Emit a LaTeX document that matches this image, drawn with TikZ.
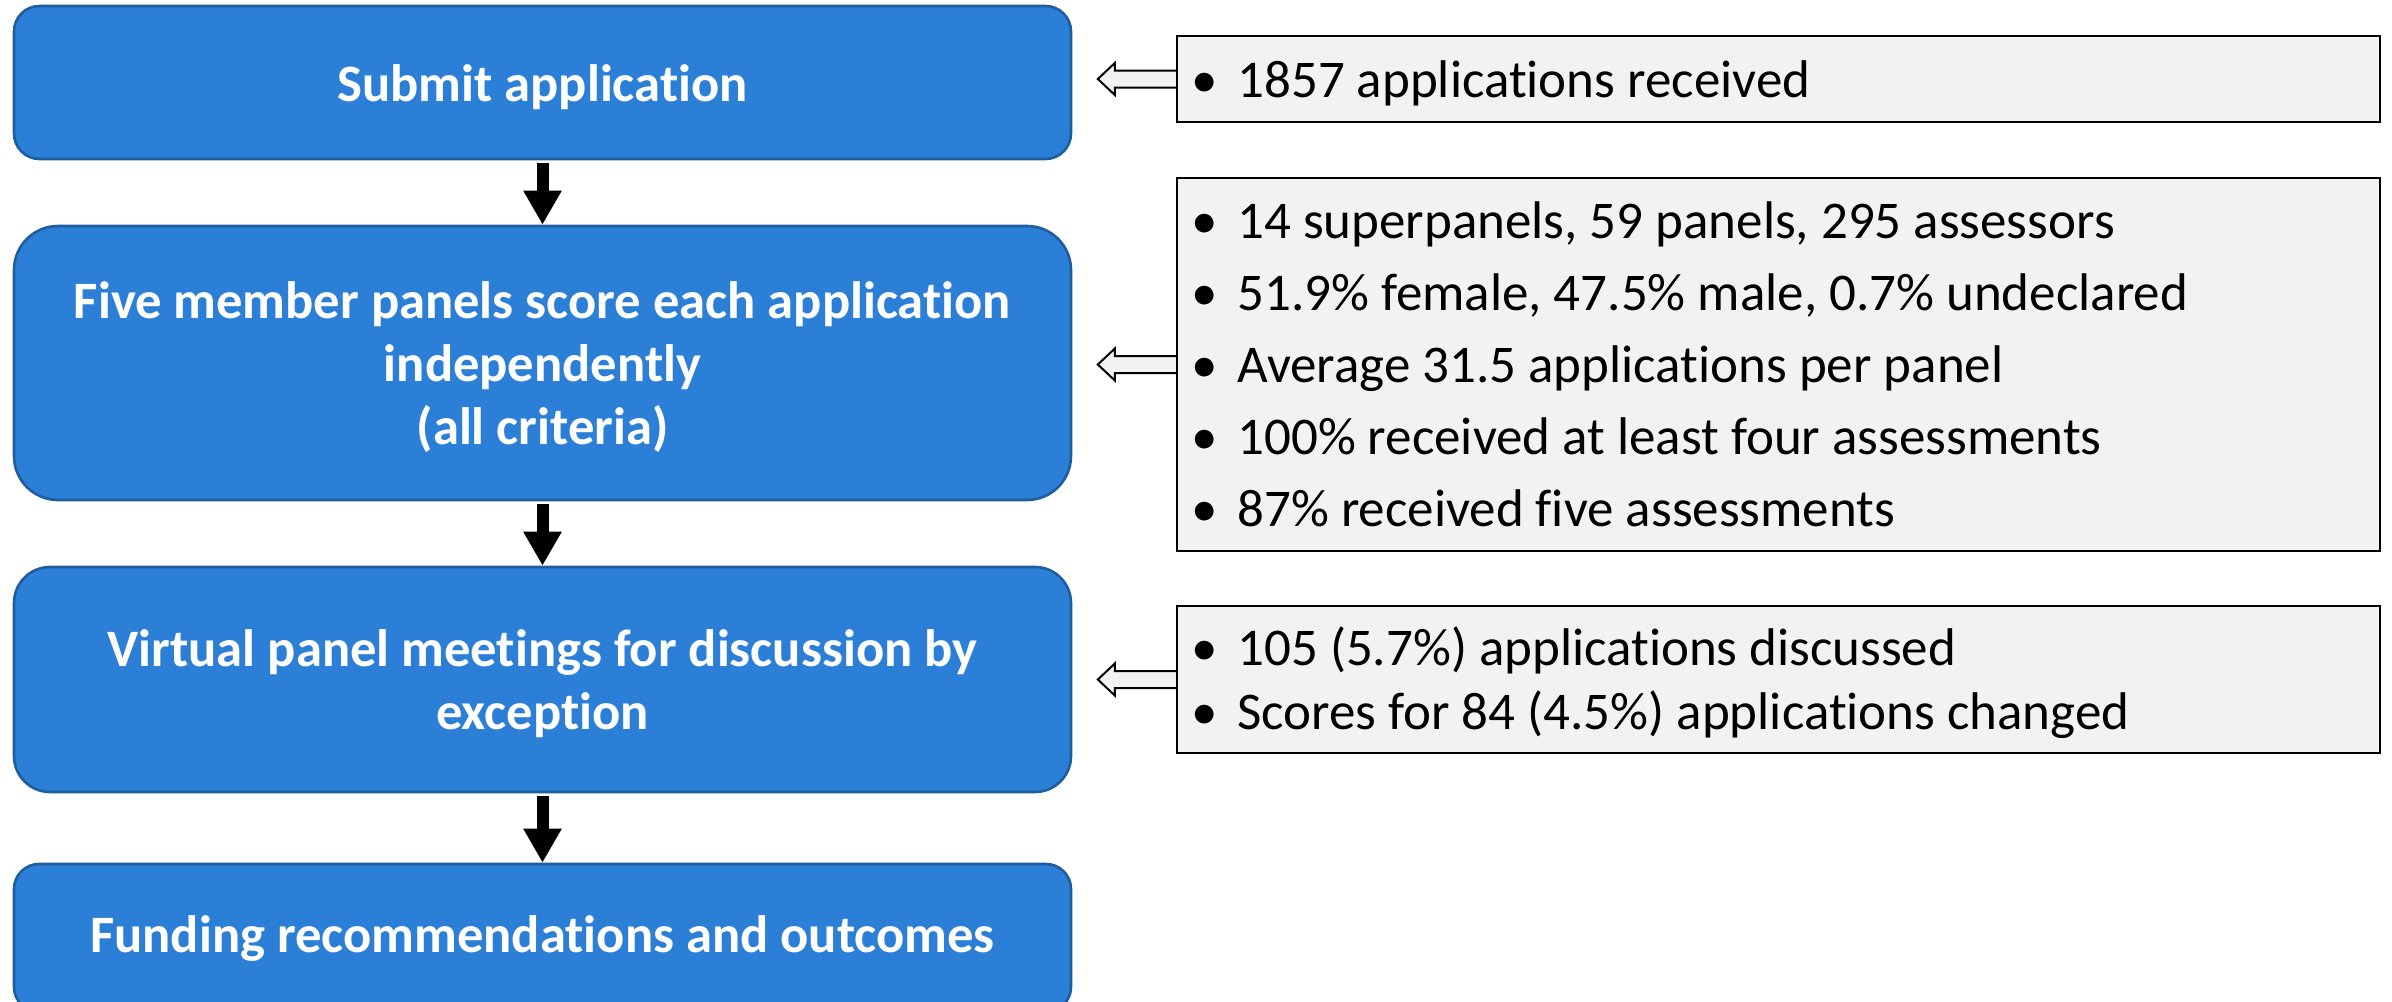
\documentclass[tikz,border=0pt]{standalone}
\usepackage{fontspec}
\setmainfont{Carlito}[Ligatures={NoCommon}]
\usetikzlibrary{arrows.meta}
\definecolor{boxblue}{HTML}{2B7FD6}
\definecolor{boxedge}{HTML}{1F5E9E}
\definecolor{panelgray}{HTML}{F2F2F2}
\begin{document}
\begin{tikzpicture}[x=0.5pt,y=-0.5pt,
  stage/.style={draw=boxedge, fill=boxblue, line width=1.3pt, text=white,
    font=\fontsize{26.3}{31.5}\selectfont\bfseries, align=center,
    minimum width=528.5pt, inner sep=0pt},
  panel/.style={draw=black, fill=panelgray, line width=1.2pt,
    minimum width=601.5pt, inner sep=0pt},
  note/.style={anchor=base west, inner sep=0pt, font=\fontsize{26.5}{31}\selectfont},
  dot/.style={anchor=base, inner sep=0pt, font=\fontsize{26.5}{31}\selectfont},
  flow/.style={line width=6pt, -{Triangle[length=17pt,width=18pt]}, shorten <=1.5pt},
  hollow/.style={draw=black, fill=panelgray, line width=1pt, line join=miter}]
\useasboundingbox (0,0) rectangle (2392,1001);
% process stages
\node[stage, minimum height=76.5pt, rounded corners=12.75pt] (s1) at (542.5,82.5) {\rule{0pt}{0.88em}Submit application};
\node[stage, minimum height=137pt, rounded corners=22pt] (s2) at (542.5,363) {\rule{0pt}{0.85em}Five member panels score each application\\independently\\(all criteria)};
\node[stage, minimum height=112.5pt, rounded corners=18pt] (s3) at (542.5,679.5) {\rule{0pt}{0.85em}Virtual panel meetings for discussion by\\exception};
\node[stage, minimum height=74pt, rounded corners=12.5pt] (s4) at (542.5,938) {Funding recommendations and outcomes};
% flow arrows
\draw[flow] (s1) -- (s2);
\draw[flow] (s2) -- (s3);
\draw[flow] (s3) -- (s4);
% info panels
\node[panel, minimum height=43pt] (r1) at (1778.5,79) {};
\node[panel, minimum height=186.5pt] (r2) at (1778.5,364.5) {};
\node[panel, minimum height=73.5pt] (r3) at (1778.5,679.5) {};
% panel texts
\node[dot] (b11) at (1205,97) {•};
\node[note] (t11) at (1237,97) {1857 applications received};
\node[dot] (b21) at (1205,238) {•};
\node[note] (t21) at (1237,238) {14 superpanels, 59 panels, 295 assessors};
\node[dot] (b22) at (1205,310) {•};
\node[note] (t22) at (1237,310) {51.9\% female, 47.5\% male, 0.7\% undeclared};
\node[dot] (b23) at (1205,382) {•};
\node[note] (t23) at (1237,382) {Average 31.5 applications per panel};
\node[dot] (b24) at (1205,454) {•};
\node[note] (t24) at (1237,454) {100\% received at least four assessments};
\node[dot] (b25) at (1205,526) {•};
\node[note] (t25) at (1237,526) {87\% received five assessments};
\node[dot] (b31) at (1205,665) {•};
\node[note] (t31) at (1237,665) {105 (5.7\%) applications discussed};
\node[dot] (b32) at (1205,729) {•};
\node[note] (t32) at (1237,729) {Scores for 84 (4.5\%) applications changed};
% hollow block arrows
\foreach \r in {r1,r2,r3}{
  \draw[hollow] (\r.west) ++(0,-8.5) -- ++(-61,0) -- ++(0,-7.5) -- ++(-17,16)
    -- ++(17,16) -- ++(0,-7.5) -- ++(61,0);
}
\end{tikzpicture}
\end{document}
